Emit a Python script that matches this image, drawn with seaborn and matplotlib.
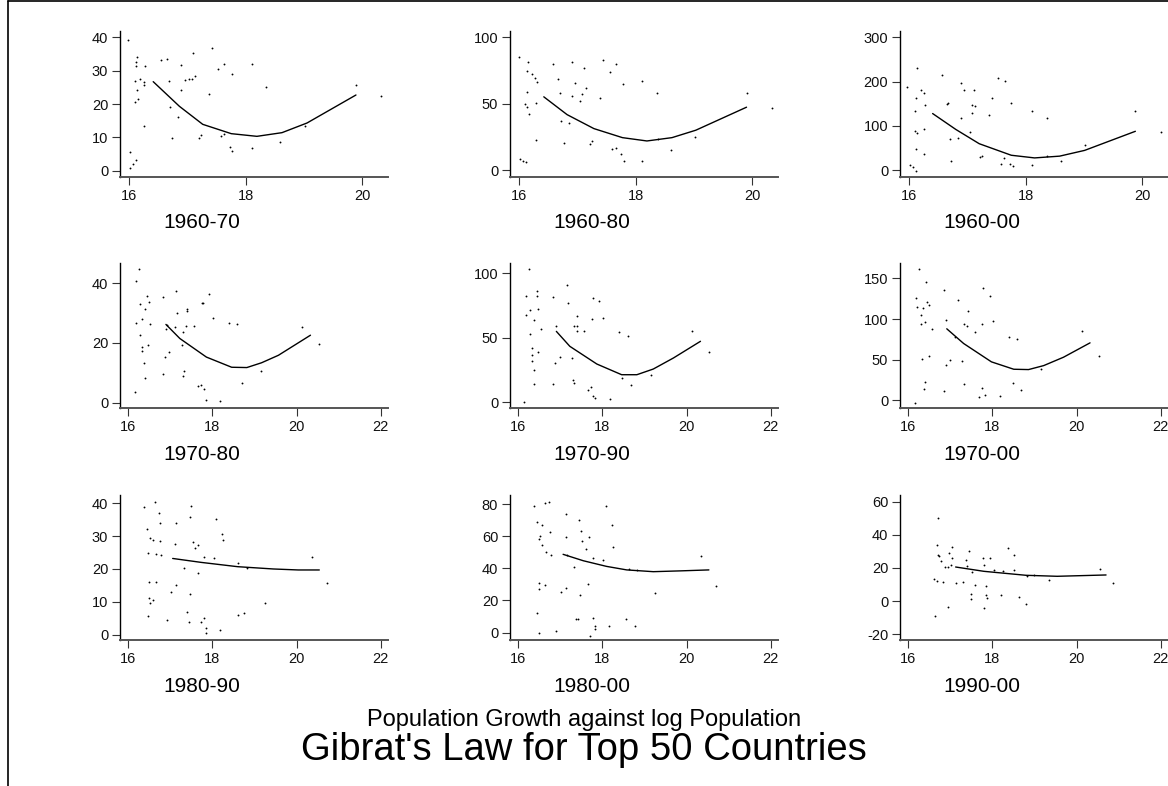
import matplotlib
matplotlib.use("Agg")
import matplotlib.pyplot as plt
import seaborn as sns
import pandas as pd
from matplotlib.lines import Line2D

# ---------------- data ----------------
# 1960-70
x_6070 = [15.98,16.02,16.01,16.07,16.11,16.10,16.11,16.14,16.11,16.13,16.15,16.10,16.19,16.25,16.25,16.27,16.26,
          16.54,16.64,16.68,16.70,16.73,16.84,16.88,16.89,16.95,17.03,17.07,17.10,17.13,17.20,17.23,17.37,17.42,
          17.52,17.57,17.63,17.63,17.72,17.76,17.77,18.10,18.11,18.35,18.59,19.01,19.89,20.32]
y_6070 = [39.3,5.5,0.8,2.0,3.3,26.9,32.7,34.0,31.3,24.3,21.4,20.5,27.4,26.5,25.7,31.5,13.5,
          33.3,33.6,26.9,19.1,9.8,16.0,31.8,24.2,27.1,27.5,27.5,35.3,28.5,9.9,10.8,23.0,36.9,
          30.5,10.4,11.0,32.1,7.0,28.9,6.0,6.8,32.1,25.0,8.6,13.4,25.8,22.4]
fx_6070 = [16.41,16.86,17.26,17.75,18.19,18.62,19.05,19.89]
fy_6070 = [26.7,19.3,13.9,11.1,10.3,11.4,14.3,22.7]

# 1960-80
x_6080 = [15.99,16.02,16.07,16.12,16.15,16.13,16.21,16.27,16.30,16.13,16.10,16.13,16.17,16.28,16.29,16.58,16.66,
          16.69,16.72,16.76,16.86,16.91,16.91,16.96,17.08,17.05,17.11,17.14,17.22,17.25,17.38,17.44,17.55,17.59,
          17.66,17.66,17.74,17.78,17.79,18.10,18.11,18.37,18.38,18.61,19.01,19.90,20.33]
y_6080 = [85.2,8.5,7.3,6.5,81.7,74.6,72.4,69.6,66.6,59.0,50.0,48.0,42.5,50.5,23.1,80.2,68.8,
          58.3,36.9,20.4,35.9,81.4,55.8,65.6,57.3,52.3,77.1,61.6,19.8,22.1,54.3,82.9,73.9,16.3,
          17.1,80.2,12.1,65.1,7.0,67.1,7.0,57.8,23.6,15.3,25.1,57.8,47.0]
fx_6080 = [16.42,16.82,17.28,17.77,18.19,18.62,19.03,19.90]
fy_6080 = [55.3,41.9,31.4,24.6,22.1,24.6,30.2,47.5]

# 1960-00
x_6000 = [15.96,16.02,16.07,16.11,16.14,16.11,16.10,16.09,16.14,16.11,16.20,16.25,16.27,16.25,16.25,16.56,16.64,
          16.67,16.70,16.72,16.84,16.88,16.94,16.88,17.04,17.07,17.12,17.08,17.11,17.21,17.24,17.36,17.42,17.52,
          17.58,17.63,17.65,17.73,17.75,17.78,18.10,18.10,18.36,18.36,18.60,19.01,19.88,20.32]
y_6000 = [187,13,7.5,-1.5,230,162,133,88,85,47.5,181,174,147,93,37,215,149,
          152,70,20,72,196,182,118,87,147,144,129,182,30,32,124,164,209,
          13.5,27,202,13.5,152,10,133,12,118,32,20,56,133,87]
fx_6000 = [16.40,16.80,17.20,17.75,18.15,18.58,19.01,19.88]
fy_6000 = [128,92,60,34,28,32,45,88]

# 1970-80
x_7080 = [16.16,16.18,16.20,16.26,16.29,16.29,16.33,16.34,16.34,16.38,16.40,16.40,16.44,16.48,16.49,16.53,16.82,
          16.83,16.88,16.90,16.92,16.98,17.11,17.15,17.17,17.28,17.30,17.32,17.30,17.37,17.39,17.40,17.57,17.67,
          17.74,17.80,17.75,17.79,17.85,17.92,18.02,18.18,18.40,18.58,18.70,19.15,20.13,20.54]
y_7080 = [3.5,40.8,26.8,44.8,33.1,22.5,18.6,17.4,28.1,13.3,8.2,31.4,35.8,19.3,33.8,26.4,9.6,
          35.4,15.3,24.8,25.9,17.0,25.4,37.5,30.1,19.2,9.1,10.5,23.6,25.8,30.6,31.3,25.7,5.6,
          5.9,4.8,33.4,33.4,1.1,36.3,28.4,0.6,26.8,26.2,6.5,10.6,25.5,19.7]
fx_7080 = [16.90,17.23,17.86,18.46,18.82,19.17,19.57,20.33]
fy_7080 = [26.2,21.5,15.3,11.9,11.8,13.4,15.9,22.6]

# 1970-90
x_7090 = [16.14,16.18,16.20,16.25,16.28,16.29,16.34,16.33,16.33,16.38,16.39,16.38,16.44,16.44,16.48,16.48,16.55,
          16.83,16.84,16.88,16.91,16.99,17.17,17.19,17.28,17.31,17.34,17.32,17.39,17.40,17.41,17.56,17.67,17.73,
          17.75,17.79,17.79,17.83,17.92,18.02,18.18,18.40,18.47,18.60,18.68,19.15,20.13,20.53]
y_7090 = [0.0,82.2,67.7,103.6,53.1,71.6,42.1,36.7,32.0,63.6,24.8,14.5,86.0,82.4,72.4,39.0,56.8,
          14.2,81.7,30.7,59.4,34.9,91.2,77.3,34.1,17.3,14.7,58.9,58.9,55.0,67.2,55.0,9.3,11.9,
          64.6,80.6,5.2,3.4,78.3,65.6,2.6,54.3,18.6,51.7,13.7,21.2,55.0,38.8]
fx_7090 = [16.91,17.23,17.87,18.46,18.82,19.21,19.69,20.33]
fy_7090 = [55.0,43.4,29.7,21.4,21.4,25.8,34.4,47.3]

# 1970-00
x_7000 = [16.17,16.27,16.19,16.21,16.35,16.44,16.50,16.32,16.43,16.40,16.30,16.56,16.34,16.50,16.40,16.39,16.86,
          16.91,16.85,16.89,17.00,17.12,17.18,17.29,17.32,17.33,17.39,17.42,17.58,17.75,17.75,17.79,17.83,17.69,
          17.94,18.02,18.19,18.39,18.48,18.59,18.69,19.15,20.14,20.54]
y_7000 = [-3.3,161.9,125.7,114.7,113.0,121.2,116.7,105.6,145.5,96.6,94.5,88.0,51.4,55.1,22.6,13.6,135.6,
          99.2,11.1,44.0,49.7,78.1,123.3,48.1,94.1,19.7,91.7,109.3,83.8,93.7,15.6,138.5,6.6,4.5,
          128.2,97.4,5.8,77.7,21.8,75.6,12.3,38.2,85.5,55.1]
fx_7000 = [16.92,17.32,17.98,18.51,18.86,19.22,19.69,20.32]
fy_7000 = [88.0,69.9,47.3,38.2,37.8,42.7,53.0,70.7]

# 1980-90
x_8090 = [16.38,16.44,16.47,16.47,16.50,16.49,16.52,16.59,16.53,16.60,16.64,16.66,16.66,16.74,16.75,16.77,16.78,
          16.92,17.03,17.12,17.15,17.15,17.32,17.39,17.44,17.46,17.46,17.49,17.54,17.60,17.65,17.65,17.74,17.81,
          17.84,17.86,17.80,18.03,18.09,18.19,18.23,18.26,18.60,18.61,18.75,18.82,19.25,20.37,20.72]
y_8090 = [39.0,32.2,24.8,5.7,16.1,11.3,9.7,10.6,29.4,28.8,40.5,24.6,15.9,37.1,34.1,28.6,24.1,
          4.5,12.9,27.5,15.0,34.1,20.2,7.0,3.8,12.4,35.9,39.2,28.3,26.3,27.3,18.9,3.8,5.2,
          1.9,0.4,23.5,23.2,35.2,1.4,30.6,28.8,5.9,21.7,6.7,20.2,9.7,23.5,15.8]
fx_8090 = [17.06,17.74,18.60,19.45,20.04,20.54]
fy_8090 = [23.2,22.0,20.7,20.0,19.7,19.7]

# 1980-00
x_8000 = [16.37,16.63,16.73,16.44,16.57,16.52,16.50,16.58,16.66,16.76,16.79,17.14,17.13,17.16,17.34,17.44,17.49,
          17.52,17.61,17.69,17.79,18.02,18.08,18.23,18.26,18.63,18.82,20.35,16.50,16.50,16.65,17.02,17.15,17.46,
          17.65,19.25,20.71,16.46,16.51,16.91,17.38,17.43,17.72,17.79,17.83,17.83,18.17,18.57,18.77]
y_8000 = [79.0,80.8,81.2,69.1,66.8,60.2,58.4,54.8,50.3,62.5,48.0,74.0,59.6,48.5,41.0,70.3,62.9,
          56.7,51.8,59.4,46.6,44.9,78.6,67.0,53.4,39.6,39.2,47.6,30.7,27.0,29.5,25.4,27.8,23.7,
          30.1,24.6,28.7,12.1,-0.4,0.8,8.3,8.3,-1.9,9.2,4.4,2.1,4.4,8.3,4.4]
fx_8000 = [17.07,17.55,18.10,18.58,19.21,19.85,20.53]
fy_8000 = [48.7,44.7,41.2,39.0,37.9,38.4,39.0]

# 1990-00
x_9000 = [16.63,16.70,16.69,16.71,16.73,16.62,16.69,16.79,16.83,16.87,16.94,16.96,16.98,17.04,17.04,17.02,17.15,
          17.31,17.37,17.39,17.45,17.49,17.49,17.51,17.60,17.78,17.80,17.80,17.85,17.86,17.87,17.95,18.04,18.20,
          18.26,18.38,18.51,18.52,18.63,18.81,18.82,19.00,19.35,20.56,20.87]
y_9000 = [-9.0,50.0,34.0,28.0,27.0,13.6,12.4,24.0,11.6,20.4,20.4,-3.4,29.0,32.4,26.0,21.6,11.0,
          11.4,25.0,21.0,30.0,4.4,1.4,17.6,9.6,26.0,22.0,-4.4,9.4,4.0,2.0,26.0,18.6,3.6,
          18.0,32.0,28.0,19.0,2.6,-1.6,15.0,16.0,13.0,19.4,11.0]
fx_9000 = [17.13,17.80,18.80,19.54,20.70]
fy_9000 = [20.6,18.0,15.6,15.0,15.8]

titles = ["1960-70", "1960-80", "1960-00",
          "1970-80", "1970-90", "1970-00",
          "1980-90", "1980-00", "1990-00"]
xs = [x_6070, x_6080, x_6000, x_7080, x_7090, x_7000, x_8090, x_8000, x_9000]
ys = [y_6070, y_6080, y_6000, y_7080, y_7090, y_7000, y_8090, y_8000, y_9000]
fxs = [fx_6070, fx_6080, fx_6000, fx_7080, fx_7090, fx_7000, fx_8090, fx_8000, fx_9000]
fys = [fy_6070, fy_6080, fy_6000, fy_7080, fy_7090, fy_7000, fy_8090, fy_8000, fy_9000]

yticks = [[0, 10, 20, 30, 40], [0, 50, 100], [0, 100, 200, 300],
          [0, 20, 40], [0, 50, 100], [0, 50, 100, 150],
          [0, 10, 20, 30, 40], [0, 20, 40, 60, 80], [-20, 0, 20, 40, 60]]
xticks_row = [[16, 18, 20], [16, 18, 20, 22], [16, 18, 20, 22]]
ylims = [(-1.9, 41.9), (-5.0, 104.8), (-15, 314),
         (-1.7, 46.7), (-4.4, 108), (-9.5, 169),
         (-1.6, 42.5), (-4.6, 85.6), (-23.4, 64)]
xlims_row = [(15.84, 20.44), (15.81, 22.17), (15.81, 22.17)]

subtitle = "Population Growth against log Population"
main_title = "Gibrat's Law for Top 50 Countries"

# ---------------- plotting ----------------
sns.set_theme(style="white")
plt.rcParams['font.family'] = ['Liberation Sans', 'DejaVu Sans']
plt.rcParams['axes.unicode_minus'] = False

W, H = 1168, 786
fig = plt.figure(figsize=(W / 100, H / 100), dpi=100)
fig.patch.set_facecolor("white")

col_left = [120, 510, 900]
row_top = [31, 263, 495]
row_h = [146, 145, 145]
ax_w = 268
title_y = [222, 454, 686]
title_x = [202, 592, 982]

for i in range(9):
    r, c = divmod(i, 3)
    L = col_left[c]
    T = row_top[r]
    h = row_h[r]
    ax = fig.add_axes([L / W, 1 - (T + h) / H, ax_w / W, h / H])
    df = pd.DataFrame({"x": xs[i], "y": ys[i]})
    sns.scatterplot(data=df, x="x", y="y", ax=ax, s=1.8, color="black",
                    linewidth=0, marker="o", legend=False)
    dff = pd.DataFrame({"x": fxs[i], "y": fys[i]})
    sns.lineplot(data=dff, x="x", y="y", ax=ax, color="black", lw=1.0,
                 sort=False, estimator=None, legend=False)
    ax.set_xlim(*xlims_row[r])
    ax.set_ylim(*ylims[i])
    ax.set_xticks(xticks_row[r])
    ax.set_yticks(yticks[i])
    ax.set_xlabel("")
    ax.set_ylabel("")
    ax.set_facecolor("white")
    for s in ("top", "right"):
        ax.spines[s].set_visible(False)
    ax.spines["left"].set_color("black")
    ax.spines["left"].set_linewidth(1.0)
    ax.spines["bottom"].set_color("#555555")
    ax.spines["bottom"].set_linewidth(1.4)
    ax.tick_params(axis="both", direction="out", length=5.5, width=0.8,
                   color="#333333", labelsize=10.5, labelcolor="#111111", pad=3)
    ax.tick_params(axis="y", left=True)
    ax.tick_params(axis="x", bottom=True)
    ax.grid(False)
    fig.text(title_x[c] / W, 1 - title_y[r] / H, titles[i], ha="center",
             va="center", fontsize=15, color="black")

fig.text(584 / W, 1 - 720 / H, subtitle, ha="center", va="center",
         fontsize=17, color="black")
fig.text(584 / W, 1 - 750 / H, main_title, ha="center", va="center",
         fontsize=27.5, color="black")

# outer frame (left and top edges visible)
fig.add_artist(Line2D([8 / W, 8 / W], [0, 1 - 1 / H], transform=fig.transFigure,
                      color="black", lw=1.2))
fig.add_artist(Line2D([8 / W, 1], [1 - 1 / H, 1 - 1 / H], transform=fig.transFigure,
                      color="black", lw=1.2))

fig.savefig("out.png", dpi=100, facecolor="white")
